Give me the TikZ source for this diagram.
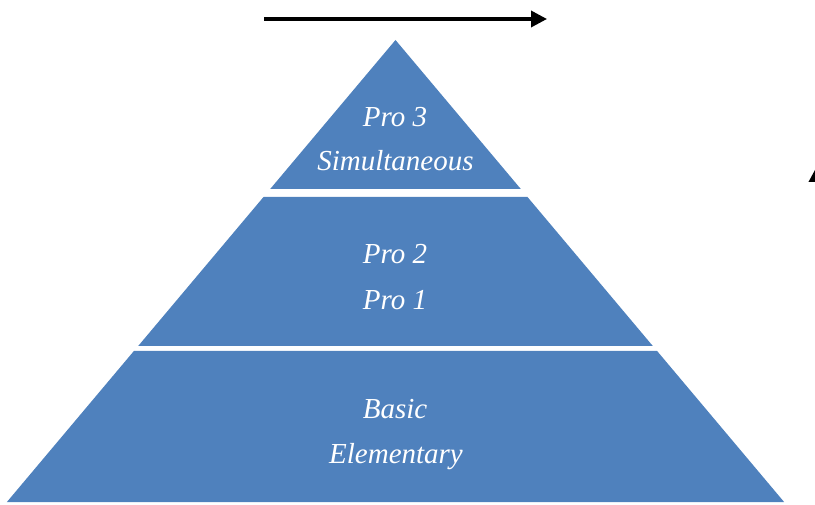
\documentclass[tikz,border=0pt]{standalone}
\usepackage{fontspec}
\setmainfont{Liberation Serif}
\usetikzlibrary{arrows.meta}
\definecolor{tierblue}{HTML}{4F81BD}
\tikzset{
  tier/.style={fill=tierblue, draw=none},
  lbl/.style={text=white, anchor=base, inner sep=0pt, font=\fontsize{29}{35}\selectfont\itshape},
  bigarrow/.style={line width=3.5pt, -{Triangle[length=16pt,width=16pt]}}
}
\begin{document}
\begin{tikzpicture}[x=1pt,y=-1pt]
\useasboundingbox (0,0) rectangle (815,505);
% tiers
\fill[tier] (395.5,40) -- (520.8,189) -- (270.2,189) -- cycle;
\fill[tier] (263.5,197) -- (527.5,197) -- (652.8,346) -- (138.2,346) -- cycle;
\fill[tier] (133.9,351) -- (657.1,351) -- (784.1,502) -- (6.9,502) -- cycle;
% labels
\node[lbl] (pro3) at (395,127) {Pro 3};
\node[lbl] (simul) at (395.5,171) {Simultaneous};
\node[lbl] (pro2) at (395,264) {Pro 2};
\node[lbl] (pro1) at (395,310) {Pro 1};
\node[lbl] (basic) at (395,418) {Basic};
\node[lbl] (elem) at (396,463) {Elementary};
% arrows
\coordinate (ha) at (264,19);
\coordinate (hb) at (547,19);
\coordinate (va) at (817,520);
\coordinate (vb) at (817,166);
\draw[bigarrow] (ha) -- (hb);
\draw[bigarrow] (va) -- (vb);
\end{tikzpicture}
\end{document}
